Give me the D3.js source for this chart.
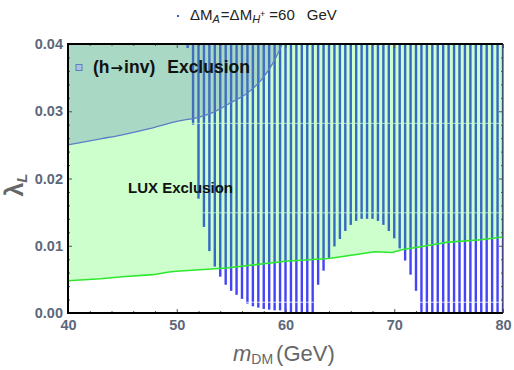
<!DOCTYPE html>
<html><head><meta charset="utf-8">
<script src="https://cdn.jsdelivr.net/npm/d3@7/dist/d3.min.js"></script>
<style>body{margin:0;background:#fff}svg{display:block}</style>
</head><body>
<svg id="c" width="514" height="370"></svg>
<script>
// ---- data ----
const stripeMass = [51,51.5,52,52.5,53,53.5,54,54.5,55,55.5,56,56.5,57,57.5,58,58.5,59,59.5,
  60,60.5,61,61.5,62,62.5,63,63.5,64,64.5,65,65.5,66,66.5,67,67.5,68,68.5,69,69.5,
  70,70.5,71,71.5,72,72.5,73,73.5,74,74.5,75,75.5,76,76.5,77,77.5,78,78.5,79,79.5,80];
const stripeBottom = [0.0394,0.0280,0.0170,0.0128,0.0092,0.0069,0.0054,0.0042,0.0033,0.0027,0.0021,0.0014,0.0010,0.0008,0.0006,0.0005,0.0004,0.0004,
  0,0,0,0,0,0,0.0042,0.0063,0.0082,0.0099,0.0110,0.0122,0.0131,0.0137,0.0140,0.0140,0.0140,0.0137,0.0131,0.0122,
  0.0111,0.0096,0.0078,0.0057,0.0033,0,0,0,0,0,0,0,0,0,0,0,0,0,0,0,0];
const stripeTop = 0.04;
const gapLevels = [0.0016, 0.0149, 0.0282];

const luxMass   = [40,43,45,47.8,49.3,50,54.6,60,64,68.2,69.8,70.7,73,74.8,78,80];
const luxLambda = [0.0048,0.0051,0.0054,0.0057,0.0061,0.0062,0.0067,0.0077,0.0081,0.0091,0.0090,0.0094,0.0100,0.0105,0.0109,0.0113];

const hinvMass   = [40,43,45,47.5,50,52,53.3,55,56.5,58,59,59.7];
const hinvLambda = [0.0250,0.0259,0.0265,0.0274,0.0285,0.0291,0.0298,0.0313,0.0327,0.0351,0.0376,0.0400];

const xTicks = [40,50,60,70,80];
const xMinor = [42,44,46,48,52,54,56,58,62,64,66,68,72,74,76,78];
const yTicks = [0,0.01,0.02,0.03,0.04];
const yTickLabels = ["0.00","0.01","0.02","0.03","0.04"];
const yMinor = [0.002,0.004,0.006,0.008,0.012,0.014,0.016,0.018,0.022,0.024,0.026,0.028,0.032,0.034,0.036,0.038];

// ---- layout ----
const L=68, R=503, T=44, B=313;
const x = d3.scaleLinear().domain([40,80]).range([L,R]);
const y = d3.scaleLinear().domain([0,0.04]).range([B,T]);
const svg = d3.select("#c");
const FONT = "'Liberation Sans', Arial, sans-serif";

svg.append("defs").append("clipPath").attr("id","clip")
  .append("rect").attr("x",L).attr("y",T).attr("width",R-L).attr("height",B-T);
const g = svg.append("g").attr("clip-path","url(#clip)");

// stripes
const stripes = stripeMass.map((m,i)=>({m, b: stripeBottom[i]}));
g.selectAll("rect.stripe").data(stripes).join("rect").attr("class","stripe")
  .attr("x", d=>x(d.m)-1.2).attr("width",2.4)
  .attr("y", y(stripeTop)).attr("height", d=>y(d.b)-y(stripeTop))
  .attr("fill","rgb(68,68,246)");
// thin gaps across stripes
g.selectAll("rect.gap").data(gapLevels).join("rect").attr("class","gap")
  .attr("x", x(51)-2).attr("width", R-x(51)+4)
  .attr("y", d=>y(d)-0.5).attr("height",1)
  .attr("fill","#fff").attr("opacity",0.75);

// LUX region
const lux = luxMass.map((m,i)=>[m, luxLambda[i]]);
const luxArea = d3.area().x(d=>x(d[0])).y0(y(0.04)-2).y1(d=>y(d[1]));
g.append("path").datum(lux).attr("d",luxArea).attr("fill","rgb(0,255,0)").attr("fill-opacity",0.2);
g.append("path").datum(lux).attr("d",d3.line().x(d=>x(d[0])).y(d=>y(d[1])))
  .attr("fill","none").attr("stroke","#2ee82e").attr("stroke-width",1.6);

// h -> inv region
const hinv = hinvMass.map((m,i)=>[m, hinvLambda[i]]);
const hArea = d3.area().x(d=>x(d[0])).y0(y(0.04)-2).y1(d=>y(d[1])).curve(d3.curveMonotoneX);
g.append("path").datum(hinv).attr("d",hArea).attr("fill","rgb(88,126,178)").attr("fill-opacity",0.3);
g.append("path").datum(hinv).attr("d",d3.line().x(d=>x(d[0])).y(d=>y(d[1])).curve(d3.curveMonotoneX))
  .attr("fill","none").attr("stroke","#5b7fc6").attr("stroke-width",1.3);

// ---- axes ----
function styleAxis(sel){
  sel.select(".domain").remove();
  sel.selectAll(".tick line").attr("stroke","#555").attr("stroke-width",1);
  sel.selectAll(".tick text").attr("fill","#5d677a").attr("font-family",FONT)
     .attr("font-weight","bold").attr("font-size",14.5);
}
svg.append("g").attr("transform",`translate(0,${B})`)
  .call(d3.axisBottom(x).tickValues(xTicks).tickSize(-4).tickPadding(7).tickFormat(d3.format("d")))
  .call(styleAxis);
svg.append("g").attr("transform",`translate(0,${B})`)
  .call(d3.axisBottom(x).tickValues(xMinor).tickSize(-2).tickFormat("")).call(styleAxis);
svg.append("g").attr("transform",`translate(0,${T})`)
  .call(d3.axisTop(x).tickValues(xTicks).tickSize(-4).tickFormat("")).call(styleAxis);
svg.append("g").attr("transform",`translate(0,${T})`)
  .call(d3.axisTop(x).tickValues(xMinor).tickSize(-2).tickFormat("")).call(styleAxis);
svg.append("g").attr("transform",`translate(${L},0)`)
  .call(d3.axisLeft(y).tickValues(yTicks).tickSize(-4).tickPadding(5).tickFormat((d,i)=>yTickLabels[i]))
  .call(styleAxis);
svg.append("g").attr("transform",`translate(${L},0)`)
  .call(d3.axisLeft(y).tickValues(yMinor).tickSize(-2).tickFormat("")).call(styleAxis);
svg.append("g").attr("transform",`translate(${R},0)`)
  .call(d3.axisRight(y).tickValues(yTicks).tickSize(-4).tickFormat("")).call(styleAxis);
svg.append("g").attr("transform",`translate(${R},0)`)
  .call(d3.axisRight(y).tickValues(yMinor).tickSize(-2).tickFormat("")).call(styleAxis);

// frame
svg.append("path").attr("d",`M${R},${T}H${L}V${B}H${R}`).attr("fill","none").attr("stroke","#000").attr("stroke-width",2);
svg.append("line").attr("x1",R).attr("x2",R).attr("y1",T).attr("y2",B).attr("stroke","#444").attr("stroke-width",1.2);

// in-plot labels
svg.append("rect").attr("x",76).attr("y",64.5).attr("width",6).attr("height",6)
  .attr("fill","#a9c4d8").attr("stroke","#5b7fc6").attr("stroke-width",1);
const ht = svg.append("text").attr("x",93).attr("y",73).attr("font-family",FONT).attr("font-weight","bold")
  .attr("font-size",17.5).attr("fill","#111");
ht.append("tspan").text("(h");
ht.append("tspan").attr("dx",1).attr("font-family","'DejaVu Sans'").attr("font-size",15).text("\u2192");
ht.append("tspan").attr("dx",1).text("inv)");
ht.append("tspan").attr("dx",12).text("Exclusion");
svg.append("text").attr("x",128).attr("y",193).attr("font-family",FONT).attr("font-weight","bold")
  .attr("font-size",15).attr("fill","#111").text("LUX Exclusion");

// top legend
svg.append("rect").attr("x",177).attr("y",15).attr("width",2).attr("height",2).attr("fill","#3a5fcd");
const lt = svg.append("text").attr("x",190).attr("y",20).attr("font-family",FONT).attr("font-size",15).attr("fill","#222");
lt.append("tspan").text("\u0394M");
lt.append("tspan").attr("font-size",11).attr("font-style","italic").attr("dy",3).text("A");
lt.append("tspan").attr("dy",-3).attr("dx",1).text("=\u0394M");
lt.append("tspan").attr("font-size",11).attr("font-style","italic").attr("dy",3).text("H");
lt.append("tspan").attr("font-size",9).attr("dy",-6).text("+");
lt.append("tspan").attr("dy",3).attr("dx",4).text("=60");
lt.append("tspan").attr("dx",12).text("GeV");

// axis titles
const xt = svg.append("text").attr("x",233).attr("y",361).attr("font-family",FONT).attr("fill","#666").attr("font-size",22);
xt.append("tspan").attr("font-style","italic").text("m");
xt.append("tspan").attr("font-size",14).attr("dy",3).text("DM");
xt.append("tspan").attr("dy",-3).attr("dx",3).text("(GeV)");

const yt = svg.append("text").attr("transform","translate(23,185) rotate(-90)").attr("text-anchor","middle")
  .attr("font-family",FONT).attr("fill","#666").attr("font-weight","bold").attr("font-size",25);
yt.append("tspan").text("\u03bb");
yt.append("tspan").attr("font-size",15).attr("font-style","italic").attr("dy",4).text("L");
</script>
</body></html>
